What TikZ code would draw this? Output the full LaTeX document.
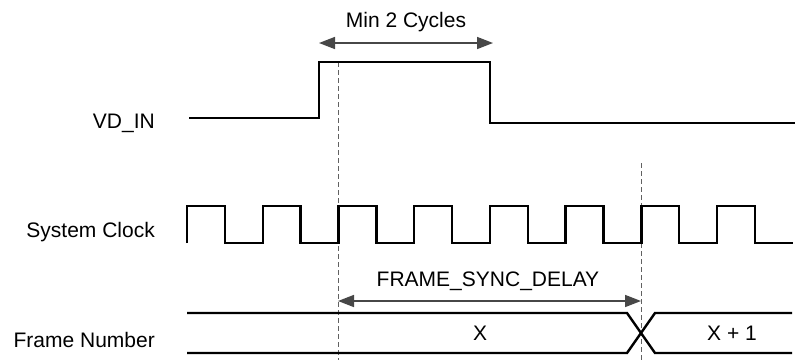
\documentclass[tikz,border=0pt]{standalone}
\usepackage{fontspec}
\setmainfont{Liberation Sans}
\usetikzlibrary{arrows.meta}

\begin{document}
\begin{tikzpicture}[x=1pt, y=-1pt,
        wave/.style = {draw=black, line width=2.4pt},
        span/.style = {draw=black!72, line width=1.6pt, {Triangle[length=16pt, width=12pt]}-{Triangle[length=16pt, width=12pt]}},
        guide/.style = {draw=black!62, line width=1pt, dash pattern=on 5pt off 3pt},
        lbl/.style = {font=\fontsize{21}{25}\selectfont, inner sep=0pt}]
    \useasboundingbox (0,0) rectangle (795,360);

    % signal names
    \node[lbl, anchor=base east] (vdname) at (155,128) {VD\_IN};
    \node[lbl, anchor=base east] (clkname) at (155,237) {System Clock};
    \node[lbl, anchor=base east] (frmname) at (155,347) {Frame Number};

    % guide lines
    \coordinate (g1top) at (338,62);  \coordinate (g1bot) at (338,360);
    \coordinate (g2top) at (641,163); \coordinate (g2bot) at (641,360);
    \draw[guide] (g1top) -- (g1bot);
    \draw[guide] (g2top) -- (g2bot);

    % VD_IN pulse
    \draw[wave] (189,118) -- (319,118) -- (319,62) -- (490,62) -- (490,123) -- (795,123);

    % system clock
    \draw[wave] (187,243) foreach \i in {0,...,7} { -- ++(0,-37) -- ++(37.86,0) -- ++(0,37) -- ++(37.86,0) };

    % frame number bus
    \draw[wave] (187,313) -- (627,313) -- (655,353) -- (792,353);
    \draw[wave] (187,353) -- (627,353) -- (655,313) -- (792,313);
    \node[lbl, anchor=base] (fx) at (480,340) {X};
    \node[lbl, anchor=base] (fx1) at (732,340) {X + 1};

    % timing spans
    \coordinate (minl) at (319,43);  \coordinate (minr) at (493,43);
    \draw[span] (minl) -- (minr);
    \node[lbl, anchor=base] (mintxt) at (406,27) {Min 2 Cycles};

    \coordinate (dlyl) at (338,301); \coordinate (dlyr) at (641,301);
    \draw[span] (dlyl) -- (dlyr);
    \node[lbl, anchor=base] (dlytxt) at (488,286) {FRAME\_SYNC\_DELAY};
\end{tikzpicture}
\end{document}
